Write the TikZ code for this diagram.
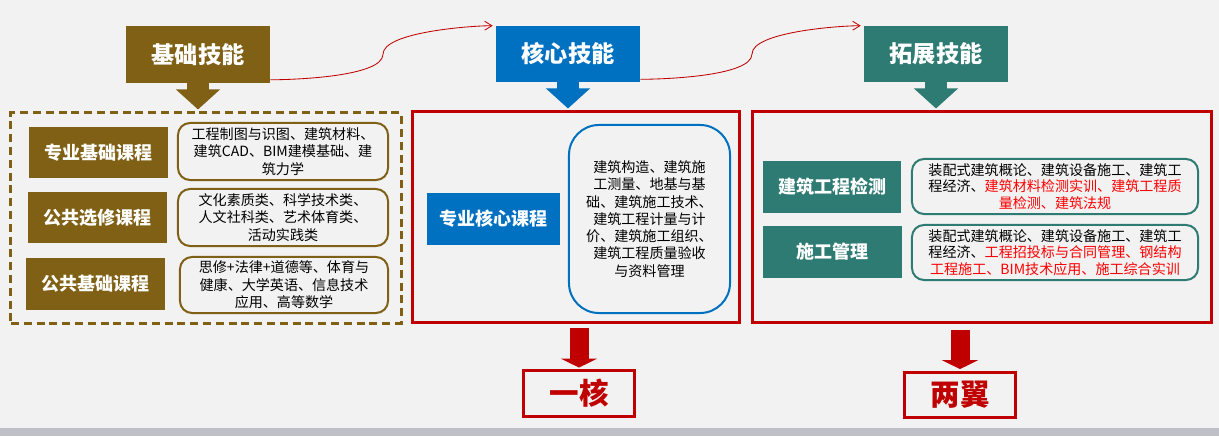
\documentclass[tikz,border=0pt]{standalone}
\usepackage{fontspec}
\setmainfont{Noto Sans CJK SC}
\usetikzlibrary{arrows.meta,calc}
\definecolor{jcbrown}{RGB}{127,96,21}
\definecolor{hxblue}{RGB}{0,112,192}
\definecolor{tzteal}{RGB}{46,123,115}
\definecolor{darkred}{RGB}{192,0,0}
\definecolor{bggray}{RGB}{242,242,242}
\definecolor{bargray}{RGB}{191,191,199}

\begin{document}
\begin{tikzpicture}[x=0.025cm, y=-0.025cm,
  skill/.style={minimum width=3.6cm, minimum height=1.4cm, inner sep=0pt, text=white, font=\fontsize{16.5}{18}\selectfont\bfseries},
  course/.style={minimum width=3.45cm, minimum height=1.28cm, inner sep=0pt, text=white, font=\fontsize{12.8}{14}\selectfont\bfseries},
  detail/.style={draw, line width=0.05cm, rounded corners=0.3cm, inner sep=0pt, align=center, font=\fontsize{10}{12.4}\selectfont},
  redframe/.style={draw=darkred, line width=0.075cm, minimum height=5.25cm},
  bigdown/.style={line width=0.55cm, -{Triangle[width=1.075cm, length=0.5cm]}},
  reddown/.style={darkred, line width=0.475cm, -{Triangle[width=0.9cm, length=0.225cm]}},
  flow/.style={darkred, line width=0.6pt, -{Straight Barb[length=0.18cm, width=0.22cm]}},
  result/.style={draw=darkred, line width=0.075cm, minimum width=2.75cm, minimum height=1.14cm, text=darkred, font=\fontsize{21}{24}\selectfont\bfseries}]
\useasboundingbox (0,0) rectangle (1219,436);
\fill[bggray] (0,0) rectangle (1219,436);
\fill[bargray] (0,428) rectangle (1219,436);

\node[skill, fill=jcbrown] (jc) at (198,54.5) {基础技能};
\node[skill, fill=hxblue] (hx) at (568,54) {核心技能};
\node[skill, fill=tzteal] (tz) at (936,54) {拓展技能};

\draw[flow] ([yshift=0.075cm]jc.south east) to[out=0, in=-90, looseness=0.5] ($(jc.south east)!0.5!(hx.north west)$) to[out=90, in=180, looseness=0.5] ([xshift=-0.075cm]hx.north west);
\draw[flow] ([yshift=0.075cm]hx.south east) to[out=0, in=-90, looseness=0.5] ($(hx.south east)!0.5!(tz.north west)$) to[out=90, in=180, looseness=0.5] ([xshift=-0.075cm]tz.north west);

\node[draw=jcbrown, line width=0.075cm, dash pattern=on 0.2cm off 0.12cm, minimum width=9.75cm, minimum height=5.25cm] (jcframe) at (206,218) {};
\node[redframe, minimum width=8.15cm] (hxframe) at (576,217) {};
\node[redframe, minimum width=11.45cm] (tzframe) at (982,217) {};

\draw[bigdown, jcbrown, shorten >=0.05cm] (jc.south) -- (jc.south |- jcframe.north);
\draw[bigdown, hxblue, shorten >=0.05cm] (hx.south) -- (hx.south |- hxframe.north);
\draw[bigdown, tzteal, shorten >=0.05cm] (tz.south) -- (tz.south |- tzframe.north);

\node[course, fill=jcbrown] (zy) at (98.5,152.5) {专业基础课程};
\node[course, fill=jcbrown] (gx) at (97.5,217.5) {公共选修课程};
\node[course, fill=jcbrown] (gj) at (95.5,284) {公共基础课程};
\node[detail, draw=jcbrown, minimum width=5.25cm, minimum height=1.425cm] (zyd) at (283,151.5) {工程制图与识图、建筑材料、\\建筑CAD、BIM建模基础、建\\筑力学};
\node[detail, draw=jcbrown, minimum width=5.25cm, minimum height=1.425cm] (gxd) at (283,217.5) {文化素质类、科学技术类、\\人文社科类、艺术体育类、\\活动实践类};
\node[detail, draw=jcbrown, minimum width=5.2cm, minimum height=1.4cm] (gjd) at (284,285) {思修+法律+道德等、体育与\\健康、大学英语、信息技术\\应用、高等数学};

\node[course, fill=hxblue, minimum width=3.325cm, minimum height=1.3cm] (zyhx) at (493.5,219) {专业核心课程};
\node[detail, draw=hxblue, rounded corners=0.75cm, minimum width=4.025cm, minimum height=4.7cm, font=\fontsize{10}{12.3}\selectfont] (hxd) at (649.5,219) {建筑构造、建筑施\\工测量、地基与基\\础、建筑施工技术、\\建筑工程计量与计\\价、建筑施工组织、\\建筑工程质量验收\\与资料管理};

\node[course, fill=tzteal, minimum height=1.3cm] (jcjc) at (832,187) {建筑工程检测};
\node[course, fill=tzteal, minimum height=1.3cm] (sg) at (832.5,252) {施工管理};
\node[detail, draw=tzteal, minimum width=7.15cm, minimum height=1.375cm, font=\fontsize{10}{11.8}\selectfont] (jcjcd) at (1055,186.5) {装配式建筑概论、建筑设备施工、建筑工\\程经济、\textcolor{red}{建筑材料检测实训、建筑工程质}\\\textcolor{red}{量检测、建筑法规}};
\node[detail, draw=tzteal, minimum width=7.15cm, minimum height=1.375cm, font=\fontsize{10}{11.8}\selectfont] (sgd) at (1055,252.5) {装配式建筑概论、建筑设备施工、建筑工\\程经济、\textcolor{red}{工程招投标与合同管理、钢结构}\\\textcolor{red}{工程施工、BIM技术应用、施工综合实训}};

\node[result] (yh) at (579,393.5) {一核};
\node[result] (lw) at (960,395) {两翼};
\draw[reddown] ($(yh.north |- hxframe.south)+(0,4)$) -- ([yshift=0.04cm]yh.north);
\draw[reddown] ($(lw.north |- tzframe.south)+(0,6)$) -- ([yshift=0.04cm]lw.north);
\end{tikzpicture}
\end{document}
